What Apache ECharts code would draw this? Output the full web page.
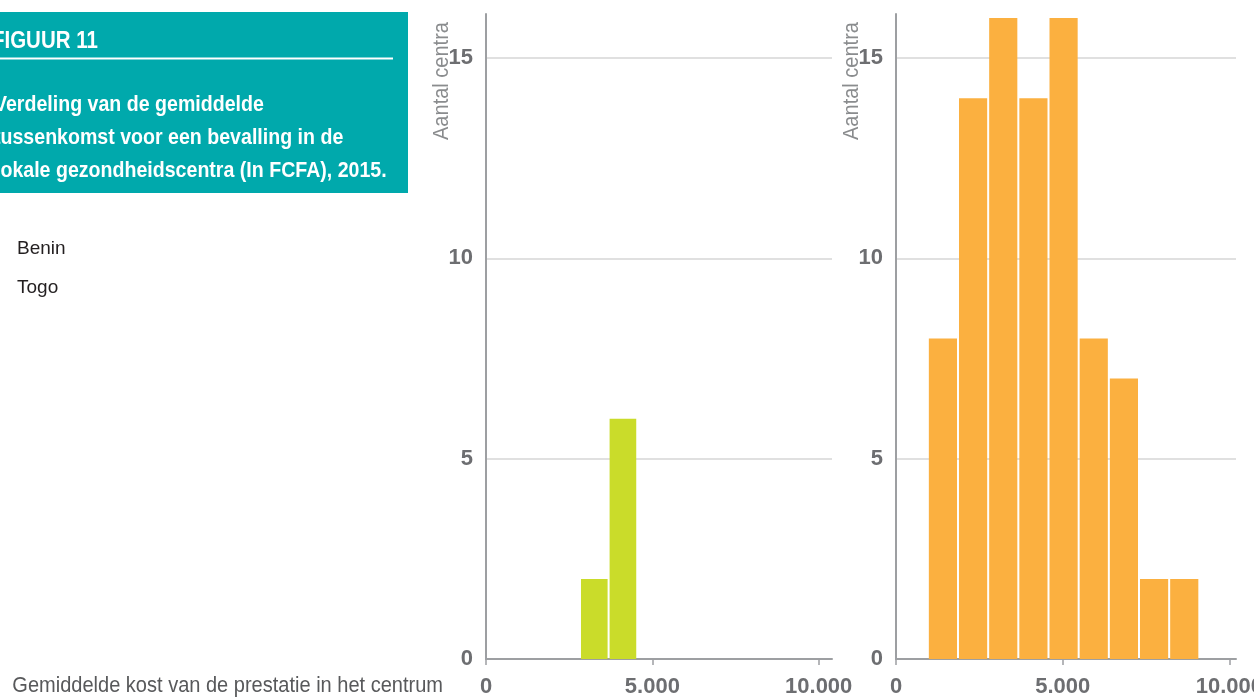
<!DOCTYPE html>
<html><head><meta charset="utf-8">
<script src="https://cdn.jsdelivr.net/npm/echarts@6/dist/echarts.min.js"></script>
<style>html,body{margin:0;padding:0;background:#fff}#c{width:1254px;height:698px}</style>
</head><body><div id="c"></div>
<script>
// Data
const beninBinStarts = [2825, 3685];
const beninBinEnds   = [3685, 4546];
const beninCounts    = [2, 6];
const togoBinStarts  = [955, 1860, 2765, 3670, 4575, 5480, 6385, 7290, 8195];
const togoBinEnds    = [1860, 2765, 3670, 4575, 5480, 6385, 7290, 8195, 9100];
const togoCounts     = [8, 14, 16, 14, 16, 8, 7, 2, 2];
const seriesNames    = ['Benin', 'Togo'];
const yTicks = [0, 5, 10, 15];
const xTicks = [0, 5000, 10000];

const FONT = "'Liberation Sans',Arial,sans-serif";
const SXB = 0.89, SXR = 0.91;
const GREEN = '#cadc2a', ORANGE = '#fbb040', TEAL = '#00a9ac';
const LABEL_GREY = '#6d6e71';

function fmt(v){ return String(v).replace(/\B(?=(\d{3})+(?!\d))/g, '.'); }
function mkData(s, e, c){ return s.map((v,i)=>[v, e[i], c[i]]); }

function renderer(color){
  return function(params, api){
    const x0 = api.value(0), x1 = api.value(1), c = api.value(2);
    const p0 = api.coord([x0, c]);
    const p1 = api.coord([x1, 0]);
    return {type:'rect', shape:{x:p0[0]+1, y:p0[1], width:p1[0]-p0[0]-2, height:p1[1]-p0[1]},
            style:{fill: color}};
  };
}

function xAxisCfg(idx, max){
  return {type:'value', gridIndex:idx, min:0, max:max, interval:5000,
    axisLine:{show:true, lineStyle:{color:'#9d9fa2', width:2}},
    axisTick:{show:true, length:6, lineStyle:{color:'#9d9fa2', width:1.5}},
    splitLine:{show:false},
    axisLabel:{showMaxLabel:false, margin:17, color:LABEL_GREY, fontFamily:FONT, fontWeight:'bold', fontSize:22,
      formatter:v=>fmt(v)}};
}
function yAxisCfg(idx){
  return {type:'value', gridIndex:idx, min:0, max:16.1, interval:5,
    axisLine:{show:true, lineStyle:{color:'#9d9fa2', width:2}},
    axisTick:{show:false},
    splitLine:{show:true, showMaxLine:false, lineStyle:{color:'#d6d6d6', width:1.5}},
    axisLabel:{showMaxLabel:false, margin:13, color:LABEL_GREY, fontFamily:FONT, fontWeight:'bold', fontSize:22}};
}

function txt(x, y, s, font, fill, sx){
  return {type:'text', x:x, y:y, scaleX:sx,
    style:{text:s, fill:fill, font:font, textVerticalAlign:'middle'}};
}

const chart = echarts.init(document.getElementById('c'), null, {renderer:'canvas'});
chart.setOption({
  animation:false,
  color:[GREEN, ORANGE],
  grid:[
    {left:486, right:1254-832, top:14, bottom:39, outerBoundsMode:'none', containLabel:false},
    {left:896, right:18, top:14, bottom:39, outerBoundsMode:'none', containLabel:false}
  ],
  xAxis:[xAxisCfg(0, 10400), xAxisCfg(1, 10200)],
  yAxis:[yAxisCfg(0), yAxisCfg(1)],
  legend:{orient:'vertical', left:7, top:234, itemWidth:0, itemHeight:0, itemGap:20,
    icon:'rect', textStyle:{fontFamily:FONT, fontSize:19, color:'#231f20'},
    data:seriesNames},
  series:[
    {name:seriesNames[0], type:'custom', xAxisIndex:0, yAxisIndex:0, renderItem:renderer(GREEN),
      encode:{x:[0,1], y:2}, data:mkData(beninBinStarts, beninBinEnds, beninCounts), z:1},
    {name:seriesNames[1], type:'custom', xAxisIndex:1, yAxisIndex:1, renderItem:renderer(ORANGE),
      encode:{x:[0,1], y:2}, data:mkData(togoBinStarts, togoBinEnds, togoCounts), z:1}
  ],
  graphic:[
    {type:'rect', left:0, top:12, shape:{width:408, height:181}, style:{fill:TEAL}, z:0},
    txt(-8, 42, 'FIGUUR 11', "bold 23px "+FONT, '#fff', SXB),
    {type:'line', shape:{x1:0, y1:58.5, x2:393, y2:58.5}, style:{stroke:'#fff', lineWidth:2}},
    txt(-6, 105, 'Verdeling van de gemiddelde', "bold 22px "+FONT, '#fff', SXB),
    txt(-6, 138, 'tussenkomst voor een bevalling in de', "bold 22px "+FONT, '#fff', SXB),
    txt(-5, 171, 'lokale gezondheidscentra (In FCFA), 2015.', "bold 22px "+FONT, '#fff', SXB),
    {type:'text', x:443, y:686, scaleX:SXR, style:{text:'Gemiddelde kost van de prestatie in het centrum', fill:'#58595b', font:"22px "+FONT, textAlign:'right', textVerticalAlign:'middle'}},
    {type:'text', x:442, y:81, rotation:Math.PI/2, scaleX:SXR, style:{text:'Aantal centra', fill:'#8a8c8e', font:"22px "+FONT, textAlign:'center', textVerticalAlign:'middle'}},
    {type:'text', x:852, y:81, rotation:Math.PI/2, scaleX:SXR, style:{text:'Aantal centra', fill:'#8a8c8e', font:"22px "+FONT, textAlign:'center', textVerticalAlign:'middle'}}
  ]
});
</script></body></html>
